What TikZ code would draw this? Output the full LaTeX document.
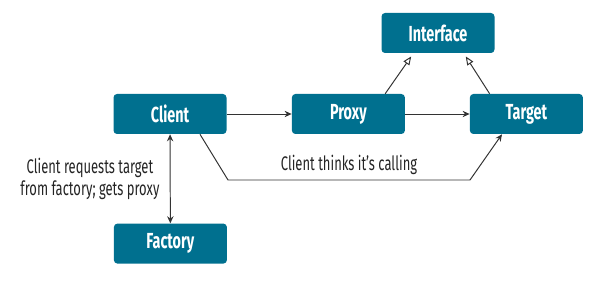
\documentclass[tikz,border=0pt]{standalone}
\usepackage{fontspec}
\setmainfont{Fira Sans}[FakeStretch=0.66]
\usepackage{tikz}
\usetikzlibrary{arrows.meta,calc}
\definecolor{boxteal}{HTML}{00708F}
\definecolor{linegray}{HTML}{333333}

\tikzset{
  pbox/.style={fill=boxteal,rounded corners=2.5pt,minimum width=2.825cm,minimum height=1cm,
    text=white,font=\fontsize{15.5}{17}\selectfont\bfseries,inner sep=0pt},
  link/.style={draw=linegray,line width=0.7pt},
  note/.style={text=linegray!70!black,font=\fontsize{14}{15.5}\selectfont}
}

\begin{document}
\begin{tikzpicture}[>={Stealth[length=5pt,width=4.5pt]}]
  \useasboundingbox (0,0) rectangle (15,-7.05);
  \node[pbox] (client) at (4.25,-2.85) {Client};
  \node[pbox] (proxy) at (8.71,-2.85) {Proxy};
  \node[pbox] (target) at (13.16,-2.85) {Target};
  \node[pbox] (iface) at (10.95,-0.825) {Interface};
  \node[pbox] (factory) at (4.26,-6.09) {Factory};
  % calls
  \draw[link,->] (client) -- (proxy);
  \draw[link,->] (proxy) -- (target);
  % realisation of the interface
  \draw[link,-{Triangle[open,length=6pt,width=5pt]}] ($(proxy.north east)+(-0.5,0)$) -- ($(iface.south west)+(0.75,-0.08)$);
  \draw[link,-{Triangle[open,length=6pt,width=5pt]}] ($(target.north west)+(0.5,0)$) -- ($(iface.south east)+(-0.725,-0.08)$);
  % factory
  \draw[link,<->] (client) -- node[note,left=4pt,align=center] {Client requests target\\from factory; gets proxy} (factory);
  % what the client believes
  \coordinate (bendA) at (5.7,-4.5);
  \coordinate (bendB) at (11.75,-4.5);
  \draw[link,->] ($(client.south)+(0.75,0)$) -- (bendA) -- node[note,above=0pt] {Client thinks it’s calling} (bendB) -- ($(target.south)+(-0.61,0)$);
\end{tikzpicture}
\end{document}
